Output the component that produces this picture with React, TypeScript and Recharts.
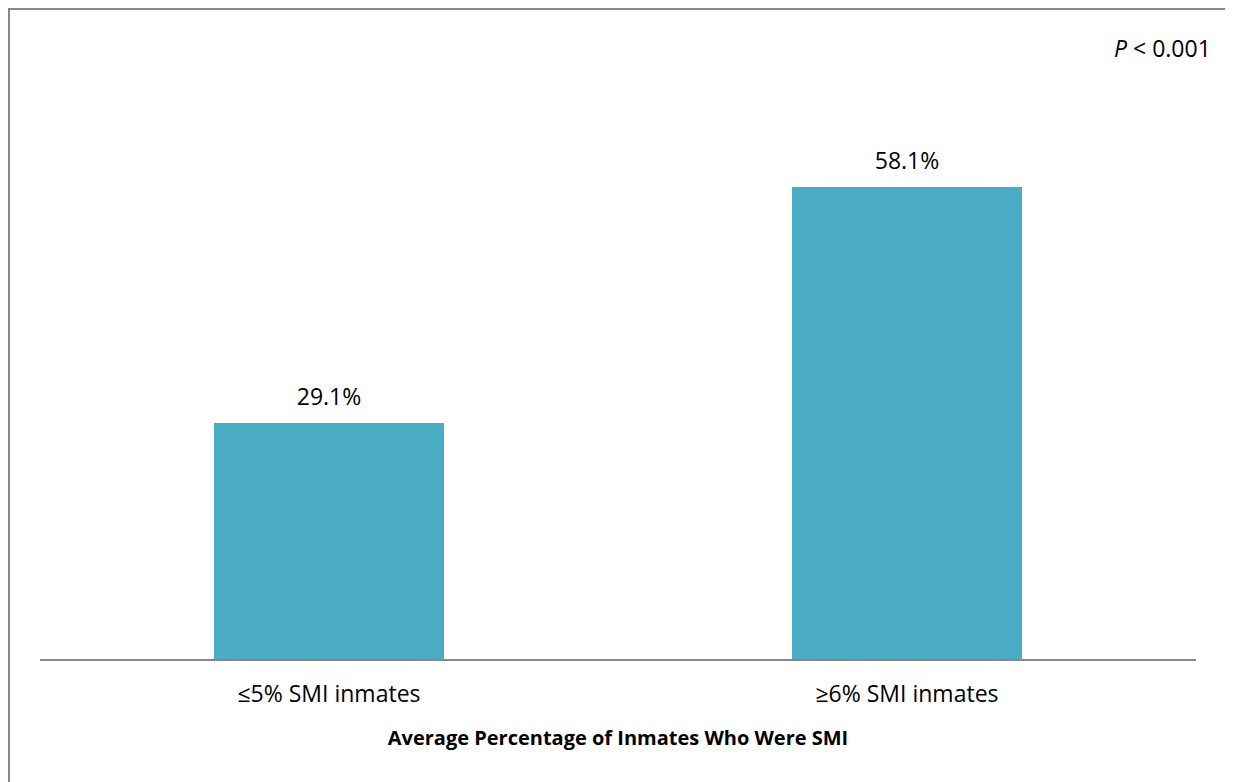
import React from "react";
import { BarChart, Bar, XAxis, YAxis, LabelList } from "recharts";

const categories = ["≤5% SMI inmates", "≥6% SMI inmates"];
const values = [29.1, 58.1];
const valueLabels = ["29.1%", "58.1%"];
const axisTitle = "Average Percentage of Inmates Who Were SMI";
const pNote = "< 0.001";

const data = categories.map((c, i) => ({ name: c, value: values[i], label: valueLabels[i] }));

const FONT = "'Open Sans', sans-serif";

const Tick = (props: any) => {
  const { x, y, payload } = props;
  return (
    <text x={x} y={y} dy={34} textAnchor="middle" fontFamily={FONT} fontSize={23} fill="#000">
      {payload.value}
    </text>
  );
};

export default function App() {
  return (
    <div
      style={{
        position: "relative",
        width: 1300,
        height: 800,
        borderTop: "2px solid #888",
        borderLeft: "2px solid #888",
        boxSizing: "border-box",
        background: "#fff",
        overflow: "hidden",
      }}
    >
      <style>{"html,body{overflow:hidden}"}</style>
      <BarChart
        width={1223}
        height={764}
        data={data}
        margin={{ top: 80, right: 37, bottom: 24, left: 30 }}
      >
        <YAxis hide domain={[0, 70]} />
        <XAxis
          dataKey="name"
          height={90}
          axisLine={{ stroke: "#888", strokeWidth: 2 }}
          tickLine={false}
          tick={<Tick />}
          interval={0}
          label={{
            value: axisTitle,
            position: "insideBottom",
            offset: 5,
            style: { fontFamily: FONT, fontSize: 20, fontWeight: 700, fill: "#000" },
          }}
        />
        <Bar dataKey="value" fill="#4BACC6" barSize={230} isAnimationActive={false}>
          <LabelList
            dataKey="label"
            position="top"
            offset={18}
            style={{ fontFamily: FONT, fontSize: 23, fill: "#000" }}
          />
        </Bar>
      </BarChart>
      <div
        style={{
          position: "absolute",
          left: 1104,
          top: 22,
          fontFamily: FONT,
          fontSize: 23,
          color: "#000",
          whiteSpace: "nowrap",
        }}
      >
        <i>P</i> {pNote}
      </div>
    </div>
  );
}
